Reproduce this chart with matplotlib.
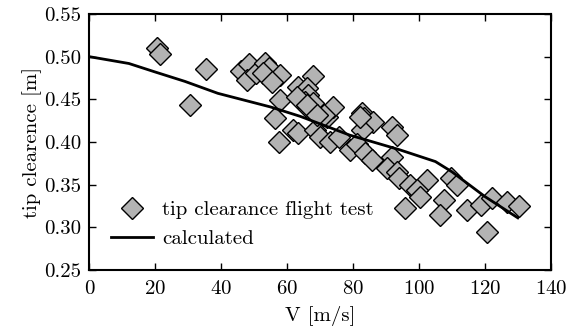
import matplotlib
matplotlib.use("Agg")
import matplotlib.pyplot as plt

plt.rcParams['font.family'] = 'serif'
plt.rcParams['font.serif'] = ['cmr10']
plt.rcParams['mathtext.fontset'] = 'cm'
plt.rcParams['axes.formatter.use_mathtext'] = True
plt.rcParams['font.size'] = 15

# flight test data
test_v = [20.6, 21.3, 35.3, 30.4, 46.1, 48.5, 47.9, 50.7, 53.3, 54.6, 52.7, 57.8,
          55.3, 57.8, 56.3, 57.6, 68.0, 63.4, 66.1, 66.4, 65.4, 68.0, 66.4, 61.9,
          63.4, 68.5, 70.0, 72.0, 74.0, 73.0, 75.6, 82.7, 83.2, 86.2, 82.7, 91.8,
          93.3, 79.1, 81.2, 83.7, 85.7, 91.8, 90.3, 93.3, 93.8, 97.4, 102.5, 99.4,
          100.4, 109.6, 111.6, 107.5, 106.5, 95.9, 114.6, 118.7, 122.2, 126.8, 130.3,
          120.7, 68.0, 71.2, 82.2, 63.0, 66.1, 69.1]
test_h = [0.510, 0.503, 0.4855, 0.443, 0.4836, 0.491, 0.4727, 0.4805, 0.4922, 0.4864,
          0.4805, 0.4785, 0.4707, 0.449, 0.428, 0.400, 0.4773, 0.4648, 0.4633, 0.455,
          0.4472, 0.4434, 0.4395, 0.414, 0.410, 0.414, 0.4062, 0.4297, 0.4414, 0.4004,
          0.4062, 0.4336, 0.4278, 0.4238, 0.414, 0.418, 0.4082, 0.3906, 0.3977, 0.3868,
          0.3789, 0.3828, 0.3692, 0.3652, 0.3574, 0.3496, 0.3555, 0.3437, 0.3359,
          0.3574, 0.3496, 0.332, 0.3144, 0.3223, 0.3203, 0.3262, 0.334, 0.330, 0.325,
          0.2949, 0.4453, 0.4316, 0.4297, 0.4531, 0.4434, 0.4316]

# calculated curve
calc_v = [0, 12, 20, 29, 39, 55, 64, 79, 94, 105, 110, 120, 130]
calc_h = [0.500, 0.492, 0.482, 0.471, 0.457, 0.441, 0.430, 0.408, 0.391, 0.377,
          0.365, 0.336, 0.311]

fig = plt.figure(figsize=(5.69, 3.34), dpi=100)
ax = fig.add_axes([0.157, 0.192, 0.811, 0.766])

ax.plot(test_v, test_h, linestyle='none', marker='D', markersize=11,
        markerfacecolor='#b3b3b3', markeredgecolor='black', markeredgewidth=1.0,
        label='tip clearance flight test')
ax.plot(calc_v, calc_h, color='black', linewidth=2, label='calculated')

ax.set_xlim(0, 140)
ax.set_ylim(0.25, 0.55)
ax.set_xticks([0, 20, 40, 60, 80, 100, 120, 140])
ax.set_yticks([0.25, 0.30, 0.35, 0.40, 0.45, 0.50, 0.55])
ax.set_yticklabels(['0.25', '0.30', '0.35', '0.40', '0.45', '0.50', '0.55'])
ax.tick_params(direction='in', top=True, right=True, length=5, width=1)
ax.tick_params(axis='x', pad=7)
ax.tick_params(axis='y', pad=6)
for s in ax.spines.values():
    s.set_linewidth(1.5)

ax.set_xlabel('V [m/s]', labelpad=6)
ax.set_ylabel('tip clearence [m]', labelpad=1)

ax.legend(loc='lower left', frameon=False, numpoints=1, handlelength=2.0,
          handletextpad=0.45, borderaxespad=0.65, fontsize=15)

fig.savefig('out.png', dpi=100)
